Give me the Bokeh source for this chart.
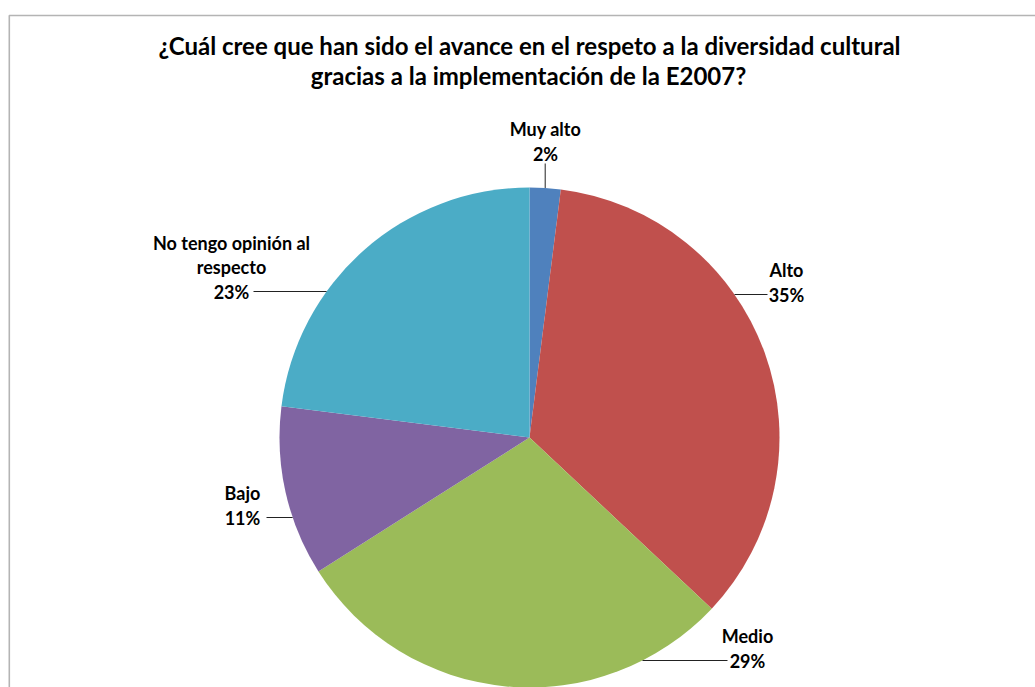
from bokeh.plotting import figure
from bokeh.models import Range1d
from bokeh.embed import file_html
from bokeh.resources import INLINE
from bokeh.core.properties import value
import numpy as np

# ---------------- data ----------------
title_lines = ["¿Cuál cree que han sido el avance en el respeto a la diversidad cultural",
               "gracias a la implementación de la E2007?"]
categories = ["Muy alto", "Alto", "Medio", "Bajo", "No tengo opinión al respecto"]
percent = [2, 35, 29, 11, 23]
label_names = [["Muy alto"], ["Alto"], ["Medio"], ["Bajo"], ["No tengo opinión al", "respecto"]]
colors = ["#4F81BD", "#C0504D", "#9BBB59", "#8064A2", "#4BACC6"]

# ---------------- layout ----------------
W, H = 1035, 687
PAGE_H = 687
def Y(py):  # page y -> data y
    return PAGE_H - py

CX, CY, R = 529, 437, 250          # pie centre / radius (page px)
FONT = value("Lato")
LINE_GAP = 24.5
# label block: (centre x, y of the percentage line) in page px
label_pos = {
    "Muy alto": (545, 153),
    "Alto": (786, 294),
    "Medio": (747, 660),
    "Bajo": (242, 517),
    "No tengo opinión al respecto": (231, 291),
}
# leader line end near the text (page x) for horizontal leaders
leader_text_x = {"Alto": 767, "Medio": 727, "Bajo": 266, "No tengo opinión al respecto": 253}

p = figure(width=W, height=H, output_backend="svg", toolbar_location=None,
           x_range=Range1d(0, W), y_range=Range1d(PAGE_H - H, PAGE_H),
           min_border=0, outline_line_color=None, background_fill_color="white",
           border_fill_color="white")
p.axis.visible = False
p.grid.visible = False

# frame border (chart area box)
p.line([8.8, 8.8, 1100], [Y(720), Y(15), Y(15)], line_color="#B4B4B4", line_width=1.6)

# wedges
frac = np.array(percent, dtype=float) / sum(percent)
cum = np.concatenate([[0], np.cumsum(frac)])
start = 90 - cum[:-1] * 360
end = 90 - cum[1:] * 360
p.wedge(x=[CX] * len(percent), y=[Y(CY)] * len(percent), radius=R,
        start_angle=start, end_angle=end, start_angle_units="deg", end_angle_units="deg",
        direction="clock", fill_color=colors, line_color=None)

# labels
tx, ty, tt = [], [], []
for cat, names, v in zip(categories, label_names, percent):
    lx, ly = label_pos[cat]
    lines = names + [f"{v}%"]
    n = len(lines)
    for i, s in enumerate(lines):
        tx.append(lx)
        ty.append(Y(ly - (n - 1 - i) * LINE_GAP))
        tt.append(s)
p.text(x=tx, y=ty, text=tt, text_align="center", text_baseline="middle",
       text_font=FONT, text_font_style="bold", text_font_size="18px", text_color="#000000")

# leader lines
for cat, mid in zip(categories, (cum[:-1] + cum[1:]) / 2):
    lx, ly = label_pos[cat]
    if cat in leader_text_x:
        dy = ly - CY
        edge = np.sqrt(max(R * R - dy * dy, 0))
        ex = CX + edge if leader_text_x[cat] > CX else CX - edge
        p.line([leader_text_x[cat], ex], [Y(ly), Y(ly)], line_color="#222222", line_width=1)
    else:
        ang = np.deg2rad(90 - mid * 360)
        x0 = CX + R * np.cos(ang)
        y0 = CY - R * np.sin(ang)
        p.line([x0, x0], [Y(ly + 10), Y(y0)], line_color="#222222", line_width=1)

# title
p.text(x=[529, 528], y=[Y(45), Y(75)], text=title_lines, text_align="center",
       text_baseline="middle", text_font=FONT, text_font_style="bold",
       text_font_size="24px", text_color="#000000")

open("out.html", "w").write(file_html(p, INLINE))
